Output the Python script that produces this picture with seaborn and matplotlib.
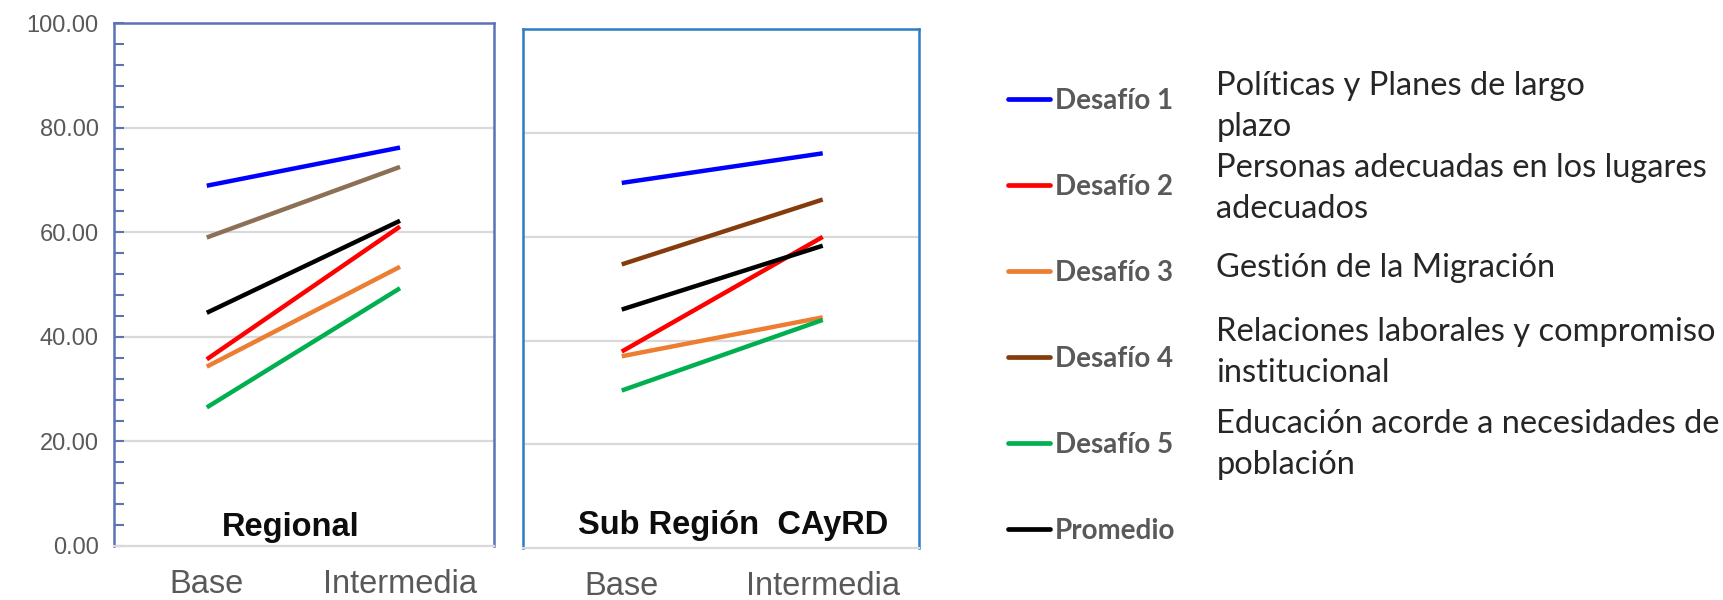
import matplotlib
matplotlib.use("Agg")
import matplotlib.pyplot as plt
from matplotlib.ticker import MultipleLocator, FuncFormatter
import seaborn as sns
import pandas as pd

# Stages on the x axis
etapas = ["Base", "Intermedia"]

# Series names and their long descriptions
series = ["Desafío 1", "Desafío 2", "Desafío 3", "Desafío 4", "Desafío 5", "Promedio"]
descripciones = [
    "Políticas y Planes de largo\nplazo",
    "Personas adecuadas en los lugares\nadecuados",
    "Gestión de la Migración",
    "Relaciones laborales y compromiso\ninstitucional",
    "Educación acorde a necesidades de\npoblación",
    "",
]

# Scores per series: [Base, Intermedia]
regional = {
    "Desafío 1": [68.9, 76.2],
    "Desafío 2": [35.7, 61.1],
    "Desafío 3": [34.3, 53.4],
    "Desafío 4": [59.0, 72.5],
    "Desafío 5": [26.5, 49.3],
    "Promedio": [44.6, 62.2],
}
subregion = {
    "Desafío 1": [70.4, 76.1],
    "Desafío 2": [37.9, 60.0],
    "Desafío 3": [37.0, 44.5],
    "Desafío 4": [54.7, 67.2],
    "Desafío 5": [30.4, 44.0],
    "Promedio": [46.0, 58.3],
}

colores = {
    "Desafío 1": "#0000FF",
    "Desafío 2": "#FF0000",
    "Desafío 3": "#ED7D31",
    "Desafío 4": "#843C0C",
    "Desafío 5": "#00B050",
    "Promedio": "#000000",
}
# The regional panel draws Desafío 4 in a lighter brown
colores_regional = dict(colores, **{"Desafío 4": "#8C7056"})


def to_long(data):
    rows = []
    for s in series:
        for i, e in enumerate(etapas):
            rows.append({"serie": s, "pos": i, "etapa": e, "valor": data[s][i]})
    return pd.DataFrame(rows)


sns.set_theme(style="white")
plt.rcParams["font.family"] = ["Liberation Sans", "DejaVu Sans"]

fig = plt.figure(figsize=(17.23, 6.0), dpi=100)
ax1 = fig.add_axes([0.0662, 0.0900, 0.2207, 0.8715])
ax2 = fig.add_axes([0.3034, 0.0862, 0.2302, 0.8650])

grid_color = "#D9D9D9"
tick_gray = "#595959"


def draw_panel(ax, data, palette, frame, titulo, xlim, title_x, title_y, show_y):
    df = to_long(data)
    sns.lineplot(data=df, x="pos", y="valor", hue="serie", hue_order=series,
                 palette=palette, linewidth=3.2, legend=False, ax=ax,
                 solid_capstyle="butt")
    ax.set_xlim(*xlim)
    ax.set_ylim(0, 100)
    ax.set_xticks(range(len(etapas)))
    ax.set_xticklabels(etapas, fontsize=23.5, color=tick_gray)
    ax.tick_params(axis="x", length=0, pad=16.5)
    ax.set_xlabel("")
    ax.set_ylabel("")
    ax.yaxis.set_major_locator(MultipleLocator(20))
    for v in range(20, 100, 20):
        ax.axhline(v, color=grid_color, lw=1.6, zorder=0)
    for side in ("left", "top", "right"):
        ax.spines[side].set_color(frame)
        ax.spines[side].set_linewidth(1.8)
    ax.spines["bottom"].set_color(grid_color)
    ax.spines["bottom"].set_linewidth(1.6)
    if show_y:
        ax.yaxis.set_minor_locator(MultipleLocator(4))
        ax.yaxis.set_major_formatter(FuncFormatter(lambda v, p: f"{v:.2f}"))
        ax.tick_params(axis="y", which="both", direction="in", length=7,
                       width=1.5, color=frame, left=True, labelsize=17,
                       labelcolor=tick_gray, pad=11)
    else:
        ax.tick_params(axis="y", which="both", left=False, labelleft=False)
    ax.text(title_x, title_y, titulo, transform=ax.transAxes, ha="center",
            va="center", fontsize=23.5, fontweight="bold", color="#0D0D0D")


draw_panel(ax1, regional, colores_regional, "#5B72B5", "Regional",
           (-0.4797, 1.488), 0.4636, 0.036, True)
draw_panel(ax2, subregion, colores, "#2E7CC4", "Sub Región  CAyRD",
           (-0.4925, 1.481), 0.530, 0.043, False)

# Legend built from the series colours
handles = [plt.Line2D([], [], color=colores[s], lw=3.4) for s in series]
leg = fig.legend(handles, series, loc="upper left",
                 bbox_to_anchor=(0.585, 0.853), frameon=False,
                 handlelength=1.5, handletextpad=0.18, labelspacing=2.16,
                 borderpad=0, borderaxespad=0,
                 prop={"family": "Lato", "size": 20, "weight": "bold"})
for t in leg.get_texts():
    t.set_color(tick_gray)

# Long descriptions next to each legend entry; small vertical nudges (px)
# keep the wrapped blocks from crowding each other
nudges_px = [-5.5, -1, 5.5, 6.5, 1, 0]
fig.canvas.draw()
renderer = fig.canvas.get_renderer()
inv = fig.transFigure.inverted()
for t, desc, dy in zip(leg.get_texts(), descripciones, nudges_px):
    if not desc:
        continue
    bb = t.get_window_extent(renderer)
    yc = inv.transform((0, (bb.y0 + bb.y1) / 2 + dy))[1]
    fig.text(0.706, yc, desc, ha="left", va="center", fontsize=23.5,
             family="Lato", color="#262626", linespacing=1.45)

fig.savefig("out.png", dpi=100)
